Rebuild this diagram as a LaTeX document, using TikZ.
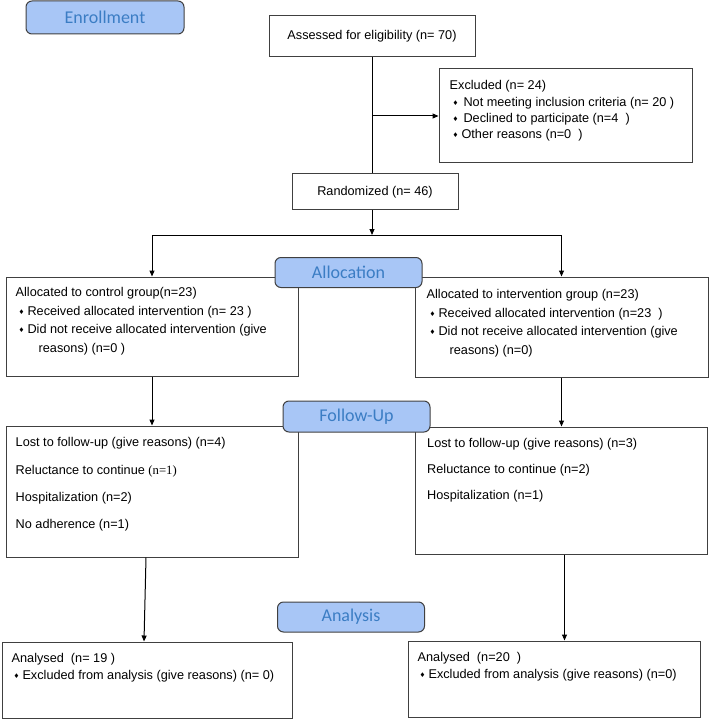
\documentclass[tikz,border=0pt]{standalone}
\usepackage{fontspec}
\setmainfont{Liberation Sans}
\newfontfamily\stagefont{Carlito}
\newfontfamily\timesfont{Liberation Serif}
\newfontfamily\symfont{DejaVu Sans}
\usetikzlibrary{arrows.meta,calc}

\definecolor{stagefill}{HTML}{A8C6F6}
\definecolor{stagetext}{HTML}{3B7DC4}
\definecolor{boxline}{HTML}{404040}
\newcommand{\dia}{\raisebox{1pt}{\symfont\fontsize{6.5}{6.5}\selectfont ♦}}

\begin{document}
\begin{tikzpicture}[x=1pt,y=-1pt,
  box/.style={draw=boxline,line width=1pt,rectangle,inner sep=0pt,font=\fontsize{12.7}{15}\selectfont},
  stage/.style={draw=boxline,fill=stagefill,rounded corners=6pt,line width=1pt,inner sep=0pt,
    minimum width=147pt,minimum height=30pt,text=stagetext,font=\stagefont\fontsize{18}{18}\selectfont},
  info/.style={anchor=north west,inner sep=0pt,align=left},
  >={Triangle[length=6pt,width=5pt]}]
\useasboundingbox (0,0) rectangle (709,719);

% enrollment
\node[box,minimum width=206pt,minimum height=41pt] (assess) at (372,36.5) {Assessed for eligibility (n= 70)};
\node[box,minimum width=253pt,minimum height=94pt] (excl) at (565.5,116) {};
\node[info,font=\fontsize{12.7}{16.3}\selectfont] (excl-t) at ($(excl.north west)+(11,12)$)
  {Excluded (n= 24)\\
   \hspace*{3pt}\dia\hspace{5pt}Not meeting inclusion criteria (n= 20 )\\
   \hspace*{3pt}\dia\hspace{5pt}Declined to participate (n=4\ \ )\\
   \hspace*{3pt}\dia\hspace{3pt}Other reasons (n=0\ \ )};
\node[box,minimum width=166pt,minimum height=36pt] (rand) at (375,192) {Randomized (n= 46)};
\coordinate (split) at (372,235);

% allocation
\node[box,minimum width=292pt,minimum height=99pt] (allocL) at (152,326.5) {};
\node[info,font=\fontsize{12.7}{18.5}\selectfont] (allocL-t) at ($(allocL.north west)+(10,11)$)
  {Allocated to control group(n=23)\\
   \hspace*{3pt}\dia\hspace{3pt}Received allocated intervention (n= 23 )\\
   \hspace*{3pt}\dia\hspace{3pt}Did not receive allocated intervention (give\\
   \hspace*{23pt}reasons) (n=0 )};
\node[box,minimum width=293pt,minimum height=100pt] (allocR) at (561.5,327) {};
\node[info,font=\fontsize{12.7}{18.5}\selectfont] (allocR-t) at ($(allocR.north west)+(12,13)$)
  {Allocated to intervention group (n=23)\\
   \hspace*{3pt}\dia\hspace{3pt}Received allocated intervention (n=23\ \ )\\
   \hspace*{3pt}\dia\hspace{3pt}Did not receive allocated intervention (give\\
   \hspace*{23pt}reasons) (n=0)};

% follow-up
\node[box,minimum width=292pt,minimum height=131pt] (follL) at (152,491.5) {};
\node[info,font=\fontsize{12.7}{27.3}\selectfont] (follL-t) at ($(follL.north west)+(10,12)$)
  {Lost to follow-up (give reasons) (n=4)\\
   Reluctance to continue {\timesfont(n=1)}\\
   Hospitalization (n=2)\\
   No adherence (n=1)};
\node[box,minimum width=292pt,minimum height=127pt] (follR) at (561.5,490.5) {};
\node[info,font=\fontsize{12.7}{26}\selectfont] (follR-t) at ($(follR.north west)+(12,12)$)
  {Lost to follow-up (give reasons) (n=3)\\
   Reluctance to continue (n=2)\\
   Hospitalization (n=1)};

% analysis
\node[box,minimum width=290pt,minimum height=76pt] (anaL) at (147,680) {};
\node[info,font=\fontsize{12.7}{17}\selectfont] (anaL-t) at ($(anaL.north west)+(10,12)$)
  {Analysed\ \ (n= 19 )\\
   \hspace*{2pt}\dia\hspace{3pt}Excluded from analysis (give reasons) (n= 0)};
\node[box,minimum width=292pt,minimum height=76pt] (anaR) at (554,679) {};
\node[info,font=\fontsize{12.7}{17}\selectfont] (anaR-t) at ($(anaR.north west)+(10,12)$)
  {Analysed\ \ (n=20\ \ )\\
   \hspace*{2pt}\dia\hspace{3pt}Excluded from analysis (give reasons) (n=0)};

% connectors
\begin{scope}[line width=1pt]
\draw (assess.south) -- (assess.south |- rand.north);
\draw[->] (assess.south |- excl.west) -- (excl.west);
\draw[->] (assess.south |- rand.south) -- (split);
\draw (allocL.north |- split) -- (allocR.north |- split);
\draw[->] (allocL.north |- split) -- (allocL.north);
\draw[->] (allocR.north |- split) -- (allocR.north);
\draw[->] (allocL.south) -- (follL.north);
\draw[->] (allocR.south) -- (follR.north);
\draw[->] ([xshift=-6pt]follL.south) -- ([xshift=-3pt]anaL.north);
\draw[->] ([xshift=3pt]follR.south) -- ([xshift=10.5pt]anaR.north);
\end{scope}

% stage labels
\node[stage,minimum width=158pt,minimum height=33pt] (enrol) at (105,17.5) {Enrollment};
\node[stage] (alloc) at (348.5,272.5) {Allocation};
\node[stage,minimum height=31pt] (follow) at (356.5,416.5) {Follow-Up};
\node[stage] (analysis) at (351,617) {Analysis};
\end{tikzpicture}
\end{document}
